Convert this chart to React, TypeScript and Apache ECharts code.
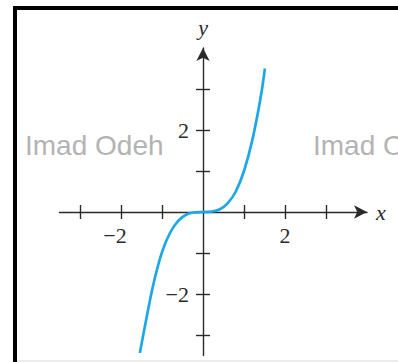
import React, { useEffect, useRef } from "react";
import * as echarts from "echarts";

// Points (x, y in axis units)
const curveX = [-1.54, -1.4, -1.2, -1.0, -0.8, -0.6, -0.4, -0.2, 0, 0.2, 0.4, 0.6, 0.8, 1.0, 1.2, 1.4, 1.51];
const curveY = [-3.44, -2.7, -1.72, -0.98, -0.5, -0.21, -0.06, -0.01, 0, 0.01, 0.06, 0.21, 0.5, 1.0, 1.74, 2.76, 3.5];

const tickValues = [-3, -2, -1, 1, 2, 3];
const labelValues = [-2, 2];
const axisNames = ["x", "y"];
const watermarkText = "Imad Odeh";

const AXIS_COLOR = "#2a2a2a";
const CURVE_COLOR = "#1ca8e6";
const SERIF = "'Liberation Serif', 'DejaVu Serif', serif";

const fmt = (v: number) => (v < 0 ? "\u2212" + Math.abs(v) : String(v));
// x labels: the digit sits under the tick, the minus sign hangs to its left
const fmtX = (v: number) => (v < 0 ? "{neg|\u2212" + Math.abs(v) + "}" : String(v));

export default function App() {
  const ref = useRef<HTMLDivElement>(null);

  useEffect(() => {
    document.body.style.margin = "0";
    const chart = echarts.init(ref.current!, null, { renderer: "svg" });

    const xMin = -3.5;
    const xMax = 4.0;
    const yMin = -3.5;
    const yMax = 4.0;
    const unit = 41;
    const originX = 203;
    const originY = 212;

    const left = originX + xMin * unit;
    const top = originY - yMax * unit;
    const width = (xMax - xMin) * unit;
    const height = (yMax - yMin) * unit;
    // axes are shifted from the grid edges onto the origin
    const xOffset = -(top + height - originY);
    const yOffset = -(originX - left);

    const grid = {
      left,
      top,
      width,
      height,
      containLabel: false,
      outerBoundsMode: "none",
    };

    const lineStyle = { color: AXIS_COLOR, width: 1.4 };

    const option: any = {
      animation: false,
      backgroundColor: "#ffffff",
      grid,
      xAxis: [
        {
          type: "value",
          min: xMin,
          max: xMax,
          position: "bottom",
          offset: xOffset,
          axisLine: { show: true, onZero: false, lineStyle, symbol: ["none", "arrow"], symbolSize: [10, 13] },
          axisTick: { show: true, customValues: tickValues, length: 7, inside: false, lineStyle },
          axisLabel: {
            show: true,
            customValues: labelValues,
            formatter: fmtX,
            margin: 12,
            color: "#2a2a2a",
            fontFamily: SERIF,
            fontSize: 22,
            rich: {
              neg: {
                fontFamily: SERIF,
                fontSize: 22,
                color: "#2a2a2a",
                padding: [0, 12, 0, 0],
              },
            },
          },
          splitLine: { show: false },
          name: axisNames[0],
          nameLocation: "end",
          nameGap: 9,
          nameTextStyle: {
            fontFamily: SERIF,
            fontStyle: "italic",
            fontSize: 22,
            color: "#2a2a2a",
            verticalAlign: "middle",
          },
        },
        {
          type: "value",
          min: xMin,
          max: xMax,
          position: "bottom",
          offset: xOffset,
          axisLine: { show: false, onZero: false },
          axisTick: { show: true, customValues: tickValues, length: 7, inside: true, lineStyle },
          axisLabel: { show: false },
          splitLine: { show: false },
        },
      ],
      yAxis: [
        {
          type: "value",
          min: yMin,
          max: yMax,
          position: "left",
          offset: yOffset,
          axisLine: { show: true, onZero: false, lineStyle, symbol: ["none", "arrow"], symbolSize: [10, 13] },
          axisTick: { show: true, customValues: tickValues, length: 7, inside: false, lineStyle },
          axisLabel: {
            show: true,
            customValues: labelValues,
            formatter: fmt,
            margin: 14,
            color: "#2a2a2a",
            fontFamily: SERIF,
            fontSize: 22,
          },
          splitLine: { show: false },
          name: axisNames[1],
          nameLocation: "end",
          nameGap: 10,
          nameTextStyle: {
            fontFamily: SERIF,
            fontStyle: "italic",
            fontSize: 22,
            color: "#2a2a2a",
            align: "center",
          },
        },
        {
          type: "value",
          min: yMin,
          max: yMax,
          position: "left",
          offset: yOffset,
          axisLine: { show: false, onZero: false },
          axisTick: { show: true, customValues: tickValues, length: 7, inside: true, lineStyle },
          axisLabel: { show: false },
          splitLine: { show: false },
        },
      ],
      series: [
        {
          type: "line",
          xAxisIndex: 0,
          yAxisIndex: 0,
          data: curveX.map((x, i) => [x, curveY[i]]),
          smooth: 0.4,
          showSymbol: false,
          clip: false,
          lineStyle: { color: CURVE_COLOR, width: 2.7 },
          z: 5,
        },
      ],
      graphic: [
        {
          type: "rect",
          shape: { x: 13, y: 6, width: 385, height: 4 },
          style: { fill: "#000" },
          silent: true,
        },
        {
          type: "rect",
          shape: { x: 13, y: 6, width: 4, height: 356 },
          style: { fill: "#000" },
          silent: true,
        },
        {
          type: "rect",
          shape: { x: 17, y: 360, width: 381, height: 2 },
          style: { fill: "#ececec" },
          silent: true,
        },
        {
          type: "text",
          x: 25,
          y: 131,
          style: {
            text: watermarkText,
            fill: "#b3b3b3",
            font: "28px 'Liberation Sans', Arial, sans-serif",
          },
          silent: true,
          z: 1,
        },
        {
          type: "text",
          x: 313,
          y: 131,
          style: {
            text: watermarkText,
            fill: "#b3b3b3",
            font: "28px 'Liberation Sans', Arial, sans-serif",
          },
          silent: true,
          z: 1,
        },
      ],
    };

    chart.setOption(option);
    return () => chart.dispose();
  }, []);

  return (
    <div
      ref={ref}
      style={{ position: "absolute", left: 0, top: 0, width: 398, height: 362 }}
    />
  );
}
